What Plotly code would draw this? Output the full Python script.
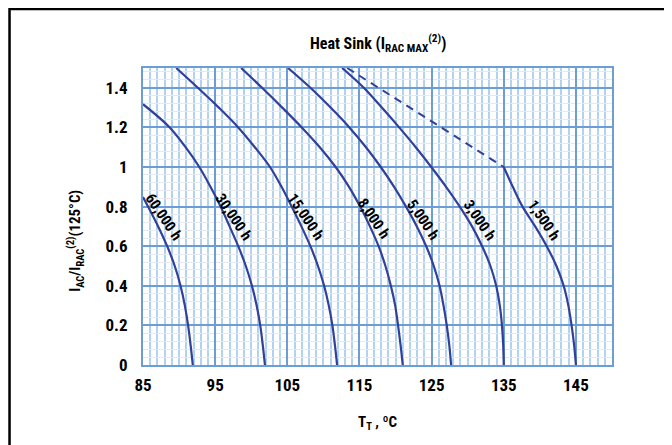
import plotly.graph_objects as go

# ---- data ----
t_60k = [85.0, 85.7, 87.1, 88.35, 89.4, 90.2, 90.8, 91.25, 91.6, 91.9]
i_60k = [0.848, 0.8, 0.7, 0.6, 0.5, 0.4, 0.3, 0.2, 0.1, 0.0]

t_30k = [85.0, 88.7, 90.9, 92.8, 94.35, 95.75, 97.0, 98.2, 99.25, 100.1, 100.75, 101.25, 101.6, 101.9]
i_30k = [1.317, 1.2, 1.1, 1.0, 0.9, 0.8, 0.7, 0.6, 0.5, 0.4, 0.3, 0.2, 0.1, 0.0]

t_15k = [89.6, 92.6, 95.5, 98.2, 100.5, 102.6, 104.2, 105.6, 106.95, 108.2, 109.25, 110.1, 110.75, 111.25, 111.6, 111.9]
i_15k = [1.5, 1.4, 1.3, 1.2, 1.1, 1.0, 0.9, 0.8, 0.7, 0.6, 0.5, 0.4, 0.3, 0.2, 0.1, 0.0]

t_8k = [98.6, 101.5, 104.3, 107.0, 109.5, 111.7, 113.55, 115.1, 116.45, 117.65, 118.6, 119.35, 119.95, 120.35, 120.7, 121.0]
i_8k = [1.5, 1.4, 1.3, 1.2, 1.1, 1.0, 0.9, 0.8, 0.7, 0.6, 0.5, 0.4, 0.3, 0.2, 0.1, 0.0]

t_5k = [105.1, 108.2, 111.0, 113.6, 115.9, 117.95, 119.8, 121.45, 122.95, 124.25, 125.3, 126.1, 126.65, 127.1, 127.45, 127.7]
i_5k = [1.5, 1.4, 1.3, 1.2, 1.1, 1.0, 0.9, 0.8, 0.7, 0.6, 0.5, 0.4, 0.3, 0.2, 0.1, 0.0]

t_3k = [112.6, 115.6, 118.1, 120.5, 122.8, 124.95, 127.0, 128.9, 130.6, 132.0, 133.15, 133.95, 134.45, 134.75, 134.92, 135.0]
i_3k = [1.5, 1.4, 1.3, 1.2, 1.1, 1.0, 0.9, 0.8, 0.7, 0.6, 0.5, 0.4, 0.3, 0.2, 0.1, 0.0]

t_1500 = [135.0, 136.25, 137.6, 139.35, 140.95, 142.3, 143.3, 143.95, 144.4, 144.75, 145.0]
i_1500 = [1.0, 0.9, 0.8, 0.7, 0.6, 0.5, 0.4, 0.3, 0.2, 0.1, 0.0]

t_max = [113.3, 135.0]
i_max = [1.5, 1.0]

curve_names = ["60,000 h", "30,000 h", "15,000 h", "8,000 h", "5,000 h", "3,000 h", "1,500 h"]
label_t = [87.9, 97.6, 107.6, 116.9, 123.8, 131.6, 140.5]
label_i = [0.75, 0.75, 0.75, 0.74, 0.73, 0.73, 0.73]

x_ticks = [85, 95, 105, 115, 125, 135, 145]

# ---- styling ----
FONT = "Roboto Condensed, Roboto, Arial, sans-serif"
CURVE = "#2f419a"
MAJOR = "#6d9dd6"
MINOR_V = "#b3d2f0"
MINOR_H = "#e6e9ee"

fig = go.Figure()
series = [(t_60k, i_60k), (t_30k, i_30k), (t_15k, i_15k), (t_8k, i_8k),
          (t_5k, i_5k), (t_3k, i_3k), (t_1500, i_1500)]
for (t, i), name in zip(series, curve_names):
    fig.add_trace(go.Scatter(x=t, y=i, mode="lines", name=name,
                             line=dict(color=CURVE, width=2.2, shape="spline", smoothing=1.0),
                             showlegend=False, hoverinfo="skip"))
fig.add_trace(go.Scatter(x=t_max, y=i_max, mode="lines", showlegend=False,
                         line=dict(color=CURVE, width=2, dash="8px,6px"), hoverinfo="skip"))

for name, xt, yi in zip(curve_names, label_t, label_i):
    fig.add_annotation(x=xt, y=yi, text="<b>" + name + "</b>", showarrow=False,
                       textangle=56, xanchor="center", yanchor="middle",
                       font=dict(family=FONT, size=15, color="black"))

fig.add_annotation(xref="paper", yref="paper", x=0.5, y=1.0, yshift=25,
                   xanchor="center", yanchor="middle",
                   text="<b>Heat Sink (I<sub>RAC MAX</sub><sup>(2)</sup>)</b>",
                   showarrow=False, font=dict(family=FONT, size=16, color="black"))
fig.add_annotation(xref="paper", yref="paper", x=0.5, y=0.0, yshift=-58,
                   xanchor="center", yanchor="middle",
                   text="<b>T<sub>T</sub> , ºC</b>",
                   showarrow=False, font=dict(family=FONT, size=15, color="black"))
fig.add_annotation(xref="paper", yref="paper", x=0.0, xshift=-68, y=0.418,
                   xanchor="center", yanchor="middle",
                   text="<b>I<sub>AC</sub>/I<sub>RAC</sub><sup>(2)</sup>(125°C)</b>",
                   textangle=-90, showarrow=False,
                   font=dict(family=FONT, size=15, color="black"))

# outer black frame (cropped on right and bottom)
fig.add_shape(type="rect", xref="paper", yref="paper",
              x0=-0.2846, x1=1.2, y0=-0.4, y1=1.1987,
              line=dict(color="black", width=2.5), fillcolor="rgba(0,0,0,0)", layer="above")

fig.update_xaxes(range=[85, 150], tickvals=x_ticks, ticktext=[str(v) for v in x_ticks],
                 showgrid=True, gridcolor=MAJOR, gridwidth=1.5,
                 minor=dict(dtick=1, tick0=85, showgrid=True, gridcolor=MINOR_V, gridwidth=1.5),
                 showline=True, linecolor=MAJOR, linewidth=2, mirror=True,
                 ticks="outside", ticklen=4, tickcolor="rgba(0,0,0,0)",
                 tickfont=dict(family=FONT, size=17, color="black", weight="bold"),
                 zeroline=False, fixedrange=True)
fig.update_yaxes(range=[0, 1.5], dtick=0.2, tick0=0,
                 showgrid=True, gridcolor=MAJOR, gridwidth=1.5,
                 minor=dict(dtick=0.04, tick0=0, showgrid=True, gridcolor=MINOR_H, gridwidth=1),
                 showline=True, linecolor=MAJOR, linewidth=2, mirror=True,
                 ticks="outside", ticklen=10, tickcolor="rgba(0,0,0,0)",
                 tickfont=dict(family=FONT, size=17, color="black", weight="bold"),
                 zeroline=False, fixedrange=True)

fig.update_layout(width=672, height=445, margin=dict(l=135, r=68, t=60, b=88),
                  plot_bgcolor="white", paper_bgcolor="white",
                  font=dict(family=FONT, color="black"))

fig.write_html("out.html")
